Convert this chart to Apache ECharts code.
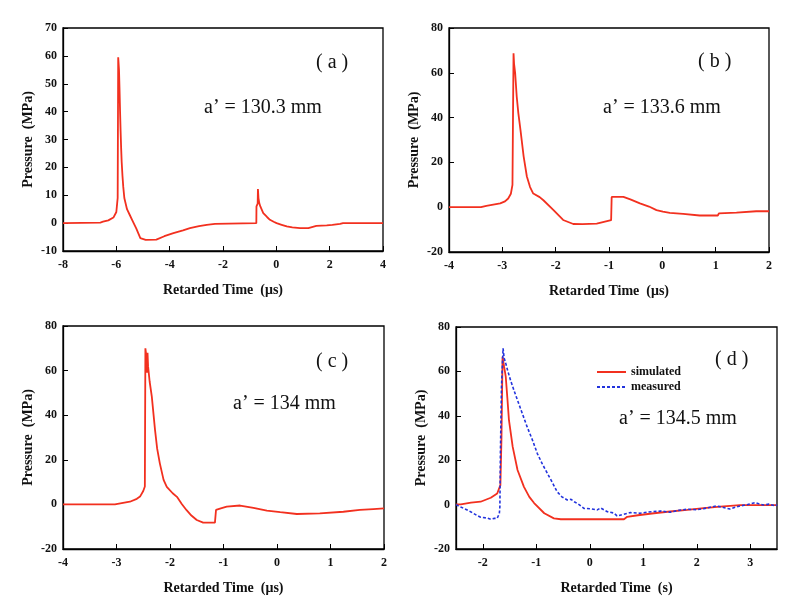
<!DOCTYPE html>
<html>
<head>
<meta charset="utf-8">
<script src="https://cdn.jsdelivr.net/npm/echarts@6.0.0/dist/echarts.min.js"></script>
<style>
  html, body { margin: 0; padding: 0; background: #fff; }
  #chart { width: 800px; height: 612px; }
</style>
</head>
<body>
<div id="chart"></div>
<script>
// [retarded time, pressure] pairs
const simA = [[-8, 0], [-6.6, 0.2], [-6.5, 0.5], [-6.3, 1], [-6.11, 2], [-6.0, 4], [-5.97, 7], [-5.95, 9],
  [-5.93, 59.5], [-5.9, 55], [-5.88, 48], [-5.86, 40], [-5.84, 33], [-5.82, 27], [-5.8, 22], [-5.77, 17],
  [-5.74, 13], [-5.7, 9], [-5.6, 5], [-5.5, 3], [-5.4, 1], [-5.25, -2], [-5.1, -5.4], [-4.9, -6], [-4.5, -5.9],
  [-4.2, -4.7], [-3.86, -3.6], [-3.5, -2.6], [-3.24, -1.8], [-2.9, -1.1], [-2.61, -0.6], [-2.3, -0.3], [-2.24, 0],
  [-0.75, 0], [-0.745, 6], [-0.7, 7], [-0.69, 12.2], [-0.67, 9], [-0.64, 7.2], [-0.6, 6], [-0.49, 3.6],
  [-0.35, 2.2], [-0.24, 1.2], [-0.1, 0.5], [0.01, 0], [0.2, -0.6], [0.39, -1.2], [0.6, -1.5], [0.89, -1.8],
  [1.2, -1.8], [1.22, -1.2], [1.5, -1], [1.89, -0.8], [2.1, -0.6], [2.39, -0.3], [2.5, 0], [4, 0]];

const simB = [[-4, 0], [-3.4, 0], [-3.3, 0.6], [-3.04, 1.7], [-2.95, 2.6], [-2.89, 3.9], [-2.84, 6], [-2.81, 10],
  [-2.8, 40], [-2.79, 68.7], [-2.78, 64], [-2.76, 60], [-2.73, 49.3], [-2.7, 42], [-2.66, 34.5], [-2.6, 22.6],
  [-2.54, 13.7], [-2.48, 9], [-2.42, 6.1], [-2.3, 4.5], [-2.23, 3.1], [-2.04, -1.3], [-1.86, -5.7], [-1.67, -7.5],
  [-1.5, -7.6], [-1.23, -7.3], [-0.96, -5.8], [-0.95, 4.6], [-0.73, 4.6], [-0.6, 3.5], [-0.42, 1.7], [-0.25, 0.3],
  [-0.11, -1.3], [0.01, -2], [0.14, -2.5], [0.39, -3], [0.7, -3.7], [1.04, -3.7], [1.06, -2.8], [1.39, -2.4],
  [1.76, -1.8], [2, -1.8]];

const simC = [[-4, 0], [-3.03, 0], [-3.0, 0.7], [-2.75, 1.2], [-2.62, 2.5], [-2.56, 3.5], [-2.5, 6], [-2.47, 8],
  [-2.46, 70], [-2.44, 66], [-2.43, 59], [-2.42, 68], [-2.41, 62], [-2.38, 55], [-2.34, 48.3], [-2.28, 33.4],
  [-2.24, 25], [-2.19, 18.4], [-2.12, 11], [-2.06, 7.9], [-1.95, 5], [-1.87, 3.4], [-1.78, 0.2], [-1.69, -2.6],
  [-1.6, -5], [-1.5, -7], [-1.38, -8.2], [-1.16, -8.2], [-1.14, -2.5], [-1.05, -1.8], [-0.94, -1], [-0.69, -0.5],
  [-0.44, -1.6], [-0.19, -2.8], [0.06, -3.5], [0.37, -4.3], [0.8, -4], [1.24, -3.3], [1.55, -2.5], [1.8, -2.1],
  [2, -1.8]];

const simD = [[-2.5, 0.1], [-2.41, 0.1], [-2.22, 0.9], [-2.04, 1.3], [-1.85, 3.1], [-1.73, 5], [-1.67, 8.8],
  [-1.65, 30], [-1.63, 66.6], [-1.6, 62], [-1.57, 57.6], [-1.54, 48], [-1.51, 38], [-1.44, 26], [-1.35, 15.6],
  [-1.23, 8], [-1.13, 3.5], [-1.04, 0.7], [-0.85, -3.9], [-0.67, -6.2], [-0.54, -6.6], [0.64, -6.6], [0.7, -5.5],
  [0.9, -4.8], [1.2, -3.9], [1.5, -3.1], [1.82, -2.4], [2.13, -1.6], [2.44, -0.9], [2.81, -0.2], [3.5, -0.2]];

const measD = [[-2.5, 0], [-2.41, -1.1], [-2.3, -2.3], [-2.22, -3.3], [-2.1, -5], [-2.04, -5.7], [-1.93, -6],
  [-1.85, -6.6], [-1.78, -6.2], [-1.73, -6.2], [-1.69, -4], [-1.68, -1.1], [-1.67, 23], [-1.65, 53], [-1.62, 70.4],
  [-1.6, 66], [-1.57, 63.6], [-1.53, 60], [-1.48, 56], [-1.41, 51], [-1.35, 47], [-1.26, 41], [-1.17, 35],
  [-1.07, 29], [-0.98, 23], [-0.88, 18], [-0.79, 14], [-0.7, 10], [-0.61, 5.8], [-0.52, 3.5], [-0.42, 2.1],
  [-0.35, 2.4], [-0.29, 1.3], [-0.2, 0], [-0.11, -1.7], [0.02, -1.9], [0.14, -2.4], [0.2, -1.5], [0.33, -3.2],
  [0.45, -3.8], [0.51, -5.1], [0.6, -4.6], [0.7, -4], [0.76, -3.6], [0.94, -3.9], [1.1, -3.3], [1.32, -2.9],
  [1.5, -3.4], [1.66, -2.6], [1.82, -2.1], [2.0, -2.3], [2.13, -1.8], [2.25, -1.2], [2.37, -0.6], [2.5, -1.3],
  [2.62, -2], [2.72, -1.2], [2.81, -0.6], [2.95, 0], [3.09, 0.9], [3.17, 0.3], [3.25, -0.2], [3.35, 0.2],
  [3.47, -0.6], [3.5, 0]];

const xTicksD = [-2, -1, 0, 1, 2, 3];
const panelLabels = ['( a )', '( b )', '( c )', '( d )'];
const radiusLabels = ['a\u2019 = 130.3 mm', 'a\u2019 = 133.6 mm', 'a\u2019 = 134 mm', 'a\u2019 = 134.5 mm'];

const SERIF = '"Liberation Serif", "DejaVu Serif", serif';
const RED = '#f2301f';
const BLUE = '#2233dd';

const grids = [
  { left: 63, top: 28, width: 320, height: 223 },
  { left: 449, top: 28, width: 320, height: 224 },
  { left: 63, top: 326, width: 321, height: 223 },
  { left: 456, top: 327, width: 321, height: 222 }
].map(g => Object.assign(g, { show: true, borderColor: '#000', borderWidth: 1.3 }));

function xAxis(idx, min, max, interval, name, custom) {
  const ax = {
    type: 'value', gridIndex: idx, min: min, max: max,
    name: name, nameLocation: 'middle', nameGap: 32,
    nameTextStyle: { fontFamily: SERIF, fontWeight: 'bold', fontSize: 14, color: '#111' },
    axisLine: { onZero: false, lineStyle: { color: '#000', width: 1.3 } },
    axisTick: { inside: true, length: 5, lineStyle: { color: '#000' } },
    axisLabel: { fontFamily: SERIF, fontWeight: 'bold', fontSize: 12, color: '#111', margin: 8 },
    splitLine: { show: false }
  };
  if (custom) {
    ax.axisTick.customValues = custom;
    ax.axisLabel.customValues = custom;
  } else {
    ax.interval = interval;
  }
  return ax;
}

function yAxis(idx, min, max, interval) {
  return {
    type: 'value', gridIndex: idx, min: min, max: max, interval: interval,
    name: 'Pressure  (MPa)', nameLocation: 'middle', nameGap: 28,
    nameTextStyle: { fontFamily: SERIF, fontWeight: 'bold', fontSize: 14, color: '#111' },
    axisLine: { onZero: false, lineStyle: { color: '#000', width: 1.3 } },
    axisTick: { inside: true, length: 5, lineStyle: { color: '#000' } },
    axisLabel: { fontFamily: SERIF, fontWeight: 'bold', fontSize: 12, color: '#111', margin: 6 },
    splitLine: { show: false }
  };
}

function lineSeries(name, idx, data, color, dashed) {
  return {
    name: name, type: 'line', xAxisIndex: idx, yAxisIndex: idx,
    data: data, showSymbol: false, symbol: 'none', animation: false,
    lineStyle: { color: color, width: dashed ? 1.6 : 1.8, type: dashed ? [3, 2] : 'solid' },
    itemStyle: { color: color }
  };
}

const textPos = [
  { lab: [316, 63], rad: [204, 108] },
  { lab: [698, 62], rad: [603, 108] },
  { lab: [316, 362], rad: [233, 404] },
  { lab: [715, 360], rad: [619, 419] }
];

const graphics = [];
textPos.forEach((p, i) => {
  graphics.push({ type: 'text', x: p.lab[0], y: p.lab[1],
    style: { text: panelLabels[i], font: '20px ' + SERIF, fill: '#111', textVerticalAlign: 'middle' } });
  graphics.push({ type: 'text', x: p.rad[0], y: p.rad[1],
    style: { text: radiusLabels[i], font: '20px ' + SERIF, fill: '#111', textVerticalAlign: 'middle' } });
});

const chart = echarts.init(document.getElementById('chart'));
chart.setOption({
  backgroundColor: '#fff',
  animation: false,
  grid: grids,
  xAxis: [
    xAxis(0, -8, 4, 2, 'Retarded Time  (\u03bcs)'),
    xAxis(1, -4, 2, 1, 'Retarded Time  (\u03bcs)'),
    xAxis(2, -4, 2, 1, 'Retarded Time  (\u03bcs)'),
    xAxis(3, -2.5, 3.5, null, 'Retarded Time  (s)', xTicksD)
  ],
  yAxis: [
    yAxis(0, -10, 70, 10),
    yAxis(1, -20, 80, 20),
    yAxis(2, -20, 80, 20),
    yAxis(3, -20, 80, 20)
  ],
  legend: {
    data: ['simulated', 'measured'],
    orient: 'vertical', left: 591, top: 361,
    itemWidth: 29, itemHeight: 10, itemGap: 3,
    itemStyle: { opacity: 0 },
    textStyle: { fontFamily: SERIF, fontWeight: 'bold', fontSize: 12, color: '#111' }
  },
  series: [
    lineSeries('a', 0, simA, RED),
    lineSeries('b', 1, simB, RED),
    lineSeries('c', 2, simC, RED),
    lineSeries('simulated', 3, simD, RED),
    lineSeries('measured', 3, measD, BLUE, true)
  ],
  graphic: graphics
});
</script>
</body>
</html>
